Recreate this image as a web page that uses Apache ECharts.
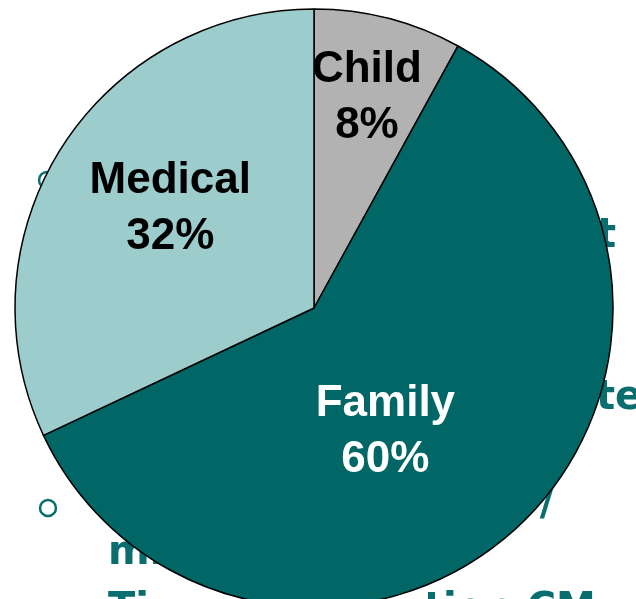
<!DOCTYPE html>
<html><head><meta charset="utf-8">
<style>html,body{margin:0;padding:0;background:#fff;}#c{width:636px;height:599px;}</style>
<script src="https://cdn.jsdelivr.net/npm/echarts@6/dist/echarts.min.js"></script>
</head><body><div id="c"></div>
<script>
var categories = ['Child', 'Family', 'Medical'];
var values = [8, 60, 32];
var sliceColors = ['#B2B2B2', '#006666', '#9CCCCC'];
var labelColors = ['#000000', '#ffffff', '#000000'];
var labelOffsets = [[15, -62], [-33, 13], [-15, -17]];

var chart = echarts.init(document.getElementById('c'), null, {renderer: 'canvas'});
var teal = '#0b6e6e';
var bgFont = 'bold 40px "DejaVu Sans"';
function bgText(str, x, baseline) {
  return {type: 'text', x: x, y: baseline - 32, z: -1,
    style: {text: str, font: bgFont, fill: teal}};
}
var data = categories.map(function (n, i) {
  return {
    name: n, value: values[i],
    itemStyle: {color: sliceColors[i]},
    label: {color: labelColors[i], offset: labelOffsets[i]}
  };
});
chart.setOption({
  animation: false,
  backgroundColor: '#ffffff',
  graphic: [
    {type: 'circle', shape: {cx: 47, cy: 180, r: 8}, style: {fill: 'none', stroke: teal, lineWidth: 2.5}, z: -1},
    {type: 'circle', shape: {cx: 48, cy: 508, r: 8}, style: {fill: 'none', stroke: teal, lineWidth: 2.5}, z: -1},
    bgText('t', 597, 249),
    bgText('te', 596, 411),
    bgText('7/', 512, 517),
    bgText('mi', 108, 566),
    bgText('Ti', 108, 623),
    bgText('tion CM', 424, 623)
  ],
  series: [{
    type: 'pie',
    center: [314, 308],
    radius: [0, 299],
    startAngle: 90,
    clockwise: true,
    avoidLabelOverlap: false,
    itemStyle: {borderColor: '#000000', borderWidth: 1.5},
    label: {
      show: true, position: 'inside',
      formatter: function (p) { return p.name + '\n' + p.value + '%'; },
      fontFamily: '"Liberation Sans", Arial, sans-serif',
      fontWeight: 'bold', fontSize: 44, lineHeight: 56
    },
    labelLine: {show: false},
    emphasis: {disabled: true},
    data: data
  }]
});
</script></body></html>
